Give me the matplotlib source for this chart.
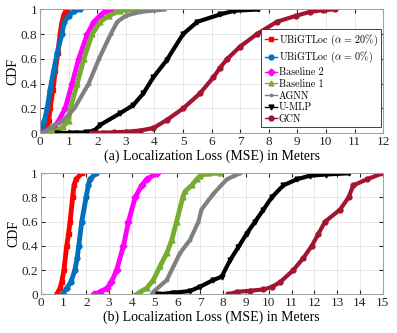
import matplotlib
matplotlib.use("Agg")
import matplotlib.pyplot as plt
from matplotlib.lines import Line2D

# ---------------- data (a) ----------------
red_a_x = [0.1, 0.24, 0.3, 0.35, 0.45, 0.53, 0.62, 0.7, 0.75, 0.82, 0.9, 0.95]
red_a_y = [0, 0.05, 0.1, 0.2, 0.35, 0.5, 0.65, 0.8, 0.88, 0.95, 0.99, 1.0]
blue_a_x = [0.02, 0.08, 0.15, 0.25, 0.35, 0.47, 0.6, 0.76, 0.85, 1.0, 1.2, 1.4]
blue_a_y = [0, 0.05, 0.1, 0.2, 0.35, 0.5, 0.65, 0.8, 0.9, 0.95, 0.99, 1.0]
mag_a_x = [0.0, 0.3, 0.5, 0.65, 0.88, 1.12, 1.35, 1.65, 1.88, 2.1, 2.3, 2.47]
mag_a_y = [0, 0.02, 0.05, 0.1, 0.2, 0.4, 0.6, 0.8, 0.9, 0.95, 0.99, 1.0]
green_a_x = [0.3, 0.6, 0.8, 1.0, 1.06, 1.3, 1.53, 1.82, 2.1, 2.4, 2.8, 3.4]
green_a_y = [0, 0.02, 0.05, 0.1, 0.2, 0.4, 0.6, 0.8, 0.9, 0.95, 0.99, 1.0]
gray_a_x = [0.1, 0.4, 0.8, 1.2, 1.7, 2.06, 2.47, 2.7, 3.0, 3.5, 4.35]
gray_a_y = [0, 0.05, 0.1, 0.2, 0.4, 0.6, 0.8, 0.9, 0.95, 0.98, 1.0]
black_a_x = [0.6, 1.05, 1.25, 1.6, 1.9, 2.1, 2.8, 3.26, 3.61, 3.96, 4.43, 5.0, 5.5, 6.3, 6.8, 7.63]
black_a_y = [0, 0, 0.002, 0.005, 0.02, 0.065, 0.16, 0.226, 0.32, 0.45, 0.59, 0.8, 0.9, 0.96, 0.99, 1.0]
gcn_a_x = [1.8, 2.2, 2.6, 3.0, 3.5, 3.96, 4.43, 5.01, 5.59, 6.06, 6.3, 6.55, 7.0, 7.58, 8.28, 8.97, 9.44, 9.9, 10.3]
gcn_a_y = [0, 0.003, 0.005, 0.01, 0.02, 0.04, 0.105, 0.2, 0.32, 0.45, 0.53, 0.6, 0.7, 0.8, 0.9, 0.95, 0.98, 0.995, 1.0]

# ---------------- data (b) ----------------
red_b_x = [0.7, 0.85, 0.92, 1.02, 1.14, 1.22, 1.29, 1.4, 1.46, 1.55, 1.8]
red_b_y = [0, 0.05, 0.1, 0.2, 0.4, 0.5, 0.6, 0.8, 0.9, 0.95, 1.0]
blue_b_x = [0.96, 1.14, 1.32, 1.5, 1.6, 1.67, 1.8, 1.99, 2.09, 2.16, 2.43]
blue_b_y = [0, 0.05, 0.1, 0.2, 0.3, 0.4, 0.6, 0.8, 0.9, 0.95, 1.0]
mag_b_x = [2.34, 2.6, 2.9, 3.1, 3.33, 3.63, 3.85, 4.14, 4.43, 4.65, 5.09]
mag_b_y = [0, 0.02, 0.05, 0.1, 0.2, 0.4, 0.6, 0.8, 0.9, 0.95, 1.0]
green_b_x = [4.21, 4.36, 4.65, 4.94, 5.23, 5.53, 5.75, 5.96, 6.23, 6.33, 6.62, 6.84, 7.0, 7.4, 7.86]
green_b_y = [0, 0.02, 0.05, 0.118, 0.23, 0.34, 0.45, 0.6, 0.8, 0.85, 0.9, 0.95, 0.98, 1.0, 1.0]
gray_b_x = [4.87, 4.94, 5.53, 5.82, 6.11, 6.55, 6.92, 7.05, 7.57, 8.16, 8.74]
gray_b_y = [0, 0.02, 0.118, 0.23, 0.34, 0.45, 0.6, 0.7, 0.83, 0.95, 1.0]
black_b_x = [5.16, 5.82, 6.55, 6.99, 7.57, 7.94, 8.3, 8.67, 9.03, 9.4, 9.77, 10.13, 10.64, 11.23, 11.8, 12.5, 13.5]
black_b_y = [0, 0.013, 0.027, 0.063, 0.118, 0.146, 0.28, 0.39, 0.5, 0.6, 0.7, 0.8, 0.9, 0.95, 0.98, 0.99, 1.0]
gcn_b_x = [8.23, 8.6, 9.2, 9.77, 10.13, 10.5, 11.08, 11.52, 11.89, 12.18, 12.47, 13.13, 13.5, 13.71, 14.3, 15.0]
gcn_b_y = [0, 0.02, 0.03, 0.04, 0.06, 0.1, 0.2, 0.3, 0.4, 0.5, 0.6, 0.7, 0.8, 0.9, 0.95, 1.0]

labels = [r"UBiGTLoc ($\alpha$ = 20%)", r"UBiGTLoc ($\alpha$ = 0%)", "Baseline 2",
          "Baseline 1", "AGNN", "U-MLP", "GCN"]
colors = ["#FF0000", "#0072BD", "#FF00FF", "#77AC30", "#808080", "#000000", "#A2142F"]
markers = ["s", "o", "D", "^", ".", "v", "o"]

series_a = [(red_a_x, red_a_y), (blue_a_x, blue_a_y), (mag_a_x, mag_a_y), (green_a_x, green_a_y),
            (gray_a_x, gray_a_y), (black_a_x, black_a_y), (gcn_a_x, gcn_a_y)]
series_b = [(red_b_x, red_b_y), (blue_b_x, blue_b_y), (mag_b_x, mag_b_y), (green_b_x, green_b_y),
            (gray_b_x, gray_b_y), (black_b_x, black_b_y), (gcn_b_x, gcn_b_y)]

plt.rcParams["font.family"] = ["Liberation Serif", "DejaVu Serif"]
plt.rcParams["mathtext.fontset"] = "cm"

fig = plt.figure(figsize=(3.97, 3.33), dpi=100)
ax1 = fig.add_axes([0.101, 0.6006, 0.864, 0.371])
ax2 = fig.add_axes([0.1025, 0.1162, 0.8615, 0.3634])

thick = [3.5, 3.5, 3.5, 3.5, 3.0, 3.0, 3.0]
for ax, series in ((ax1, series_a), (ax2, series_b)):
    for (xs, ys), c, m, lw in zip(series, colors, markers, thick):
        ax.plot(xs, ys, color=c, lw=lw, marker=m, ms=3.5, mec=c, mfc=c)
    ax.set_ylim(0, 1)
    ax.set_yticks([0, 0.2, 0.4, 0.6, 0.8, 1])
    ax.set_yticklabels(["0", "0.2", "0.4", "0.6", "0.8", "1"])
    ax.grid(True, color="#e3e3e3", lw=0.6)
    ax.set_axisbelow(True)
    ax.tick_params(direction="in", length=3, labelsize=9.5, colors="#262626",
                   top=True, right=True, pad=2)
    for sp in ax.spines.values():
        sp.set_color("#a0a0a0")
        sp.set_linewidth(0.7)
    ax.set_ylabel("CDF", fontsize=10, labelpad=1)

ax1.set_xlim(0, 12)
ax1.set_xticks(range(0, 13))
ax1.set_xlabel("(a) Localization Loss (MSE) in Meters", fontsize=10, labelpad=1)
ax2.set_xlim(0, 15)
ax2.set_xticks(range(0, 16))
ax2.set_xlabel("(b) Localization Loss (MSE) in Meters", fontsize=10, labelpad=1)

handles = [Line2D([], [], color=c, lw=1.0, marker=m, ms=3.5, mfc=c, mec=c)
           for c, m in zip(colors, markers)]
leg = ax1.legend(handles, labels, loc="lower right", bbox_to_anchor=(0.995, 0.045),
                 prop={"family": "cmr10", "size": 7.2}, frameon=True, fancybox=False,
                 handlelength=1.2, handletextpad=0.2, labelspacing=0.22,
                 borderpad=0.35, borderaxespad=0.0)
leg.get_frame().set_edgecolor("#404040")
leg.get_frame().set_linewidth(0.7)
leg.get_frame().set_alpha(1)

fig.savefig("out.png", dpi=100)
